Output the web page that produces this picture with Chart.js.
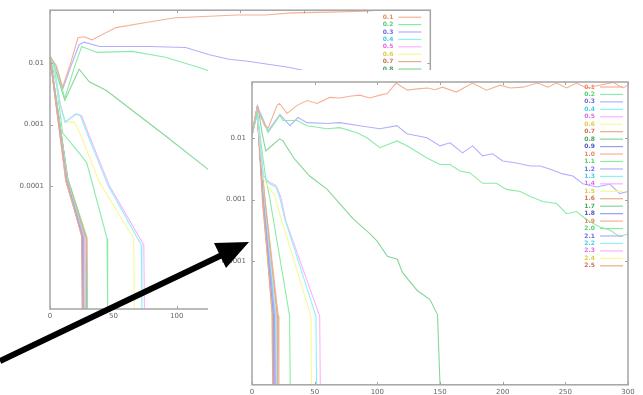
<!DOCTYPE html>
<html>
<head>
<meta charset="utf-8">
<script src="https://cdn.jsdelivr.net/npm/chart.js@4.4.1/dist/chart.umd.min.js"></script>
<style>
  html, body { margin: 0; padding: 0; background: #fff; }
  #stage { position: relative; width: 643px; height: 395px; overflow: hidden; }
  canvas { position: absolute; filter: blur(0.5px); }
  #backChart { left: 0; top: 0; }
  #frontChart { left: 208px; top: 70px; background: #fff; }
  #arrow { position: absolute; left: 0; top: 0; }
</style>
</head>
<body>
<div id="stage">
  <canvas id="backChart" width="440" height="330"></canvas>
  <canvas id="frontChart" width="435" height="325"></canvas>
  <svg id="arrow" width="643" height="395">
    <line x1="0" y1="361" x2="222" y2="255" stroke="#000" stroke-width="6"/>
    <polygon points="249,242 214,243 226,268" fill="#000"/>
  </svg>
</div>
<script>
// legend labels and tick labels
const seriesLabels = ['0.1', '0.2', '0.3', '0.4', '0.5', '0.6', '0.7', '0.8', '0.9', '1.0',
  '1.1', '1.2', '1.3', '1.4', '1.5', '1.6', '1.7', '1.8', '1.9', '2.0',
  '2.1', '2.2', '2.3', '2.4', '2.5'];
const xTicks = [0, 50, 100, 150, 200, 250, 300];
const yTickValues = [0.01, 0.001, 0.0001];
const yTickLabels = ['0.01', '0.001', '0.0001'];
const Y_FLOOR = 1e-6; // zero can't sit on a log axis, put it on the floor

// colours cycle every 9 series
const lineColors = ['#f6b096', '#8aeca4', '#b0b0ff', '#8cf2f6', '#ffb0ff', '#f8f898', '#e8ac8c', '#86d698', '#96a0ee'];
const labelColors = ['#ec8860', '#50d26c', '#6a6aea', '#3cd0e2', '#e46ae4', '#dccc40', '#cc7450', '#40a858', '#4a58c8'];

// ---- front (noisy) chart, [time, value] ----
const frontOrange = [[0, 0.012], [4, 0.031], [10, 0.0157], [13, 0.0146], [20, 0.0335], [22, 0.036], [28, 0.0247],
  [36, 0.0335], [44, 0.040], [52, 0.036], [62, 0.045], [70, 0.044], [78, 0.047], [86, 0.049], [94, 0.044],
  [102, 0.049], [108, 0.052], [115, 0.077], [124, 0.059], [132, 0.062], [140, 0.064], [146, 0.060], [152, 0.066],
  [163, 0.055], [176, 0.077], [187, 0.059], [198, 0.071], [206, 0.064], [216, 0.066], [228, 0.077], [236, 0.066],
  [243, 0.077], [251, 0.064], [259, 0.077], [267, 0.064], [277, 0.071], [288, 0.079], [296, 0.064], [300, 0.071]];
const frontBlue = [[0, 0.011], [5, 0.030], [12.8, 0.013], [22.3, 0.0238], [30.3, 0.0157], [36.7, 0.0213],
  [43.9, 0.0176], [60, 0.017], [70, 0.0176], [86, 0.0157], [102, 0.014], [115.6, 0.0157], [123.6, 0.0116],
  [139.6, 0.010], [150, 0.0074], [158, 0.0083], [168, 0.0057], [176, 0.0074], [184, 0.0051], [192, 0.0055],
  [200, 0.0042], [211, 0.0039], [222, 0.0035], [230, 0.0035], [238, 0.0031], [248, 0.0026], [256, 0.0024],
  [264, 0.0018], [275, 0.0016], [285.5, 0.00177], [293.5, 0.00125], [300, 0.00135]];
const frontGreen = [[0, 0.011], [5, 0.028], [12.8, 0.0121], [22.3, 0.0229], [24.7, 0.019], [35.9, 0.019],
  [43.9, 0.0157], [60, 0.014], [70, 0.0146], [83.7, 0.0121], [91.7, 0.010], [102, 0.0069], [115.6, 0.0089],
  [123.6, 0.0074], [139.6, 0.0047], [150, 0.0037], [158, 0.0037], [166, 0.0029], [174, 0.0027], [184, 0.00183],
  [195, 0.00183], [203, 0.00146], [214, 0.00135], [222, 0.00112], [232, 0.00093], [243, 0.00086], [251, 0.00059],
  [259, 0.00064], [267, 0.00047], [277.5, 0.00036], [285.5, 0.00032], [293.5, 0.00025], [300, 0.00028]];
const frontGreen2 = [[0, 0.011], [5, 0.03], [8, 0.012], [11, 0.0061], [16, 0.0075], [22, 0.0096], [24.7, 0.0089],
  [34, 0.0045], [46, 0.0024], [60, 0.00146], [70, 0.00086], [80.5, 0.00049], [94, 0.00028], [100, 0.00021],
  [108, 0.00012], [116, 0.000108], [120, 0.000066], [131.6, 0.000034], [142, 0.000024], [148, 0.0000137], [150, 0]];
const frontCyan = [[0, 0.011], [4, 0.028], [9, 0.0025], [14, 0.0018], [19, 0.0016], [22, 0.0011], [26, 0.0005],
  [51, 0.000013], [51.5, 0]];
const frontPink = [[0, 0.011], [4, 0.028], [9, 0.0024], [14, 0.0019], [19, 0.0017], [23, 0.0011], [27, 0.00045],
  [54, 0.000013], [54.5, 0]];
const frontYellow = [[0, 0.011], [4, 0.027], [9, 0.0022], [13, 0.0016], [18, 0.0012], [22, 0.0006],
  [47, 0.000013], [47.5, 0]];
const frontGreen3 = [[0, 0.011], [4, 0.028], [8, 0.006], [11, 0.0022], [14, 0.0011], [30, 0.000013], [30.5, 0]];
const frontBundle = [
  [[0, 0.011], [4, 0.029], [9, 0.0008], [16, 0.000014], [16.5, 0]],
  [[0, 0.011], [4, 0.030], [9, 0.0009], [17, 0.000014], [17.5, 0]],
  [[0, 0.012], [4, 0.028], [8.5, 0.0008], [16.5, 0.000015], [17, 0]],
  [[0, 0.011], [4, 0.029], [9, 0.001], [18, 0.000014], [18.5, 0]],
  [[0, 0.011], [4, 0.030], [9.5, 0.001], [19, 0.000013], [19.5, 0]],
  [[0, 0.012], [4, 0.029], [9, 0.0009], [17.5, 0.000014], [18, 0]],
  [[0, 0.011], [4, 0.028], [9, 0.0009], [16, 0.000015], [16.5, 0]],
  [[0, 0.011], [4, 0.029], [10, 0.0011], [20, 0.000014], [20.5, 0]],
  [[0, 0.011], [4, 0.030], [9, 0.0008], [17, 0.000014], [17.5, 0]],
  [[0, 0.012], [4, 0.029], [9, 0.0009], [18, 0.000014], [18.5, 0]],
  [[0, 0.011], [4, 0.028], [10, 0.0012], [21, 0.000013], [21.5, 0]],
  [[0, 0.011], [4, 0.029], [9, 0.0009], [16.5, 0.000014], [17, 0]],
  [[0, 0.011], [4, 0.030], [9, 0.0009], [17, 0.000015], [17.5, 0]],
  [[0, 0.012], [4, 0.029], [9.5, 0.001], [19, 0.000014], [19.5, 0]],
  [[0, 0.011], [4, 0.028], [9, 0.0009], [18, 0.000014], [18.5, 0]],
  [[0, 0.011], [4, 0.029], [9, 0.0009], [16, 0.000014], [16.5, 0]],
  [[0, 0.012], [4, 0.030], [10, 0.001], [20, 0.000014], [20.5, 0]]
];

// ---- back (smooth) chart ----
const backOrange = [[0, 0.013], [5, 0.009], [10, 0.0041], [16, 0.0096], [22, 0.026], [27, 0.027], [33, 0.024],
  [52, 0.038], [78, 0.047], [99, 0.055], [117, 0.057], [148, 0.061], [170, 0.061], [190, 0.066], [221, 0.068],
  [248, 0.070], [260, 0.073], [300, 0.073]];
const backBlue = [[0, 0.013], [5, 0.009], [10, 0.0038], [17, 0.0096], [23, 0.020], [27, 0.022], [39, 0.0187],
  [78, 0.0187], [107, 0.018], [125, 0.0139], [141, 0.0116], [156, 0.0108], [172, 0.0096], [188, 0.0086],
  [203, 0.0074], [219, 0.0067], [227, 0.0062], [250, 0.0052], [300, 0.0035]];
const backGreen = [[0, 0.013], [5, 0.008], [11.7, 0.0027], [19.5, 0.009], [25, 0.0187], [37, 0.015], [65, 0.0156],
  [91, 0.0125], [117, 0.0086], [133, 0.0067], [160, 0.0045], [200, 0.0028], [250, 0.0016], [300, 0.001]];
const backGreen2 = [[0, 0.013], [5, 0.007], [11.7, 0.0025], [23, 0.008], [31, 0.005], [44.5, 0.0036], [65, 0.0017],
  [91, 0.00066], [123, 0.0002], [150, 0.00007], [170, 0.00002], [176, 0.000012], [176.5, 0]];
const backCyan = [[0, 0.013], [3, 0.0095], [8, 0.0021], [12, 0.0011], [20, 0.0015], [24, 0.0014], [30, 0.00066],
  [46, 0.0001], [72, 0.000011], [72.5, 0]];
const backPink = [[0, 0.013], [3, 0.0097], [8, 0.0022], [12, 0.0011], [21, 0.0015], [25, 0.0014], [31, 0.00066],
  [47, 0.0001], [74, 0.000011], [74.5, 0]];
const backYellow = [[0, 0.013], [3, 0.009], [8, 0.002], [12, 0.0011], [19, 0.0011], [23, 0.00078], [39, 0.000115],
  [66, 0.000014], [66.5, 0]];
const backGreen3 = [[0, 0.013], [5, 0.0046], [10, 0.00073], [21, 0.00039], [29, 0.00024], [45, 0.000014], [45.5, 0]];
const backBundle = [
  [[0, 0.013], [13, 0.000125], [25, 0.000015], [25.5, 0]],
  [[0, 0.013], [13, 0.00013], [25.5, 0.000015], [26, 0]],
  [[0, 0.012], [12.5, 0.00012], [26, 0.000015], [26.5, 0]],
  [[0, 0.013], [13, 0.000125], [26, 0.000016], [26.5, 0]],
  [[0, 0.013], [13.5, 0.00013], [26.5, 0.000015], [27, 0]],
  [[0, 0.012], [13, 0.00012], [27, 0.000015], [27.5, 0]],
  [[0, 0.013], [13, 0.000125], [27, 0.000014], [27.5, 0]],
  [[0, 0.013], [13.5, 0.00013], [27.5, 0.000015], [28, 0]],
  [[0, 0.013], [14, 0.00013], [28, 0.000015], [28.5, 0]],
  [[0, 0.012], [13, 0.00012], [28, 0.000014], [28.5, 0]],
  [[0, 0.013], [14, 0.00013], [28.5, 0.000015], [29, 0]],
  [[0, 0.013], [14, 0.000135], [29, 0.000015], [29.5, 0]],
  [[0, 0.013], [12.5, 0.00012], [25, 0.000016], [25.5, 0]],
  [[0, 0.012], [13, 0.000125], [26, 0.000015], [26.5, 0]],
  [[0, 0.013], [13, 0.00013], [27, 0.000015], [27.5, 0]],
  [[0, 0.013], [12.5, 0.00012], [25.5, 0.000015], [26, 0]],
  [[0, 0.013], [14, 0.00013], [29, 0.000014], [29.5, 0]]
];

function orderSeries(orange, green, blue, cyan, pink, yellow, green2, green3, bundle) {
  return [orange, green, blue, cyan, pink, yellow, bundle[0], green2, bundle[1], bundle[2], green3]
    .concat(bundle.slice(3));
}

function toDatasets(seriesList) {
  return seriesList.map((pairs, i) => ({
    label: seriesLabels[i],
    data: pairs.map(([x, v]) => ({ x, y: v === 0 ? Y_FLOOR : v })),
    borderColor: lineColors[i % 9],
    labelColor: labelColors[i % 9]
  }));
}

// gnuplot-ish frame, inward ticks and in-plot key
const framePlugin = {
  id: 'frame',
  afterDatasetsDraw(chart, args, opts) {
    const { ctx, chartArea: a, scales: { x, y } } = chart;
    ctx.save();
    ctx.strokeStyle = '#a4a4a4';
    ctx.lineWidth = 1.5;
    ctx.strokeRect(a.left, a.top, a.right - a.left, a.bottom - a.top);
    ctx.lineWidth = 1;
    ctx.beginPath();
    xTicks.forEach(v => {
      const px = Math.round(x.getPixelForValue(v)) + 0.5;
      ctx.moveTo(px, a.bottom); ctx.lineTo(px, a.bottom - 3);
      ctx.moveTo(px, a.top); ctx.lineTo(px, a.top + 3);
    });
    yTickValues.forEach(v => {
      const py = Math.round(y.getPixelForValue(v)) + 0.5;
      ctx.moveTo(a.left, py); ctx.lineTo(a.left + 3, py);
      ctx.moveTo(a.right, py); ctx.lineTo(a.right - 3, py);
    });
    ctx.stroke();

    // key
    ctx.font = 'bold 6px "DejaVu Sans"';
    ctx.textAlign = 'right';
    ctx.textBaseline = 'middle';
    chart.data.datasets.forEach((ds, i) => {
      const ly = a.top + opts.keyTop + i * opts.keyStep;
      ctx.fillStyle = ds.labelColor;
      ctx.fillText(ds.label, a.right - opts.keyText, ly);
      ctx.strokeStyle = ds.borderColor;
      ctx.lineWidth = 1.2;
      ctx.beginPath();
      ctx.moveTo(a.right - opts.keyLine[0], ly);
      ctx.lineTo(a.right - opts.keyLine[1], ly);
      ctx.stroke();
    });
    ctx.restore();
  }
};

function makeChart(id, datasets, o) {
  const tickFont = { family: 'DejaVu Sans', size: 7 };
  return new Chart(document.getElementById(id), {
    type: 'line',
    data: { datasets },
    options: {
      responsive: false,
      animation: false,
      devicePixelRatio: 1,
      layout: { padding: o.padding },
      elements: { point: { radius: 0 }, line: { borderWidth: 1.1, tension: 0 } },
      plugins: { legend: { display: false }, tooltip: { enabled: false }, frame: o.key },
      scales: {
        x: {
          type: 'linear', min: 0, max: 300,
          grid: { display: false, drawTicks: false }, border: { display: false },
          afterBuildTicks: s => { s.ticks = xTicks.map(v => ({ value: v })); },
          ticks: { font: tickFont, color: '#666', padding: 3, maxRotation: 0 },
          afterFit: s => { s.height = o.xAxisHeight; }
        },
        y: {
          type: 'logarithmic', min: Y_FLOOR, max: o.yMax,
          grid: { display: false, drawTicks: false }, border: { display: false },
          afterBuildTicks: s => { s.ticks = yTickValues.map(v => ({ value: v })); },
          ticks: { font: tickFont, color: '#666', padding: 6, callback: (v, i) => yTickLabels[i] },
          afterFit: s => { s.width = o.yAxisWidth; }
        }
      }
    },
    plugins: [framePlugin]
  });
}

makeChart('backChart',
  toDatasets(orderSeries(backOrange, backGreen, backBlue, backCyan, backPink, backYellow, backGreen2, backGreen3, backBundle)),
  { padding: { top: 5, right: 6 }, xAxisHeight: 21, yAxisWidth: 50, yMax: 0.073,
    key: { keyTop: 7, keyStep: 7.4, keyText: 37, keyLine: [32, 9] } });

makeChart('frontChart',
  toDatasets(orderSeries(frontOrange, frontGreen, frontBlue, frontCyan, frontPink, frontYellow, frontGreen2, frontGreen3, frontBundle)),
  { padding: { top: 12, right: 15 }, xAxisHeight: 10, yAxisWidth: 44, yMax: 0.08,
    key: { keyTop: 5, keyStep: 7.45, keyText: 33, keyLine: [28, 5] } });
</script>
</body>
</html>
